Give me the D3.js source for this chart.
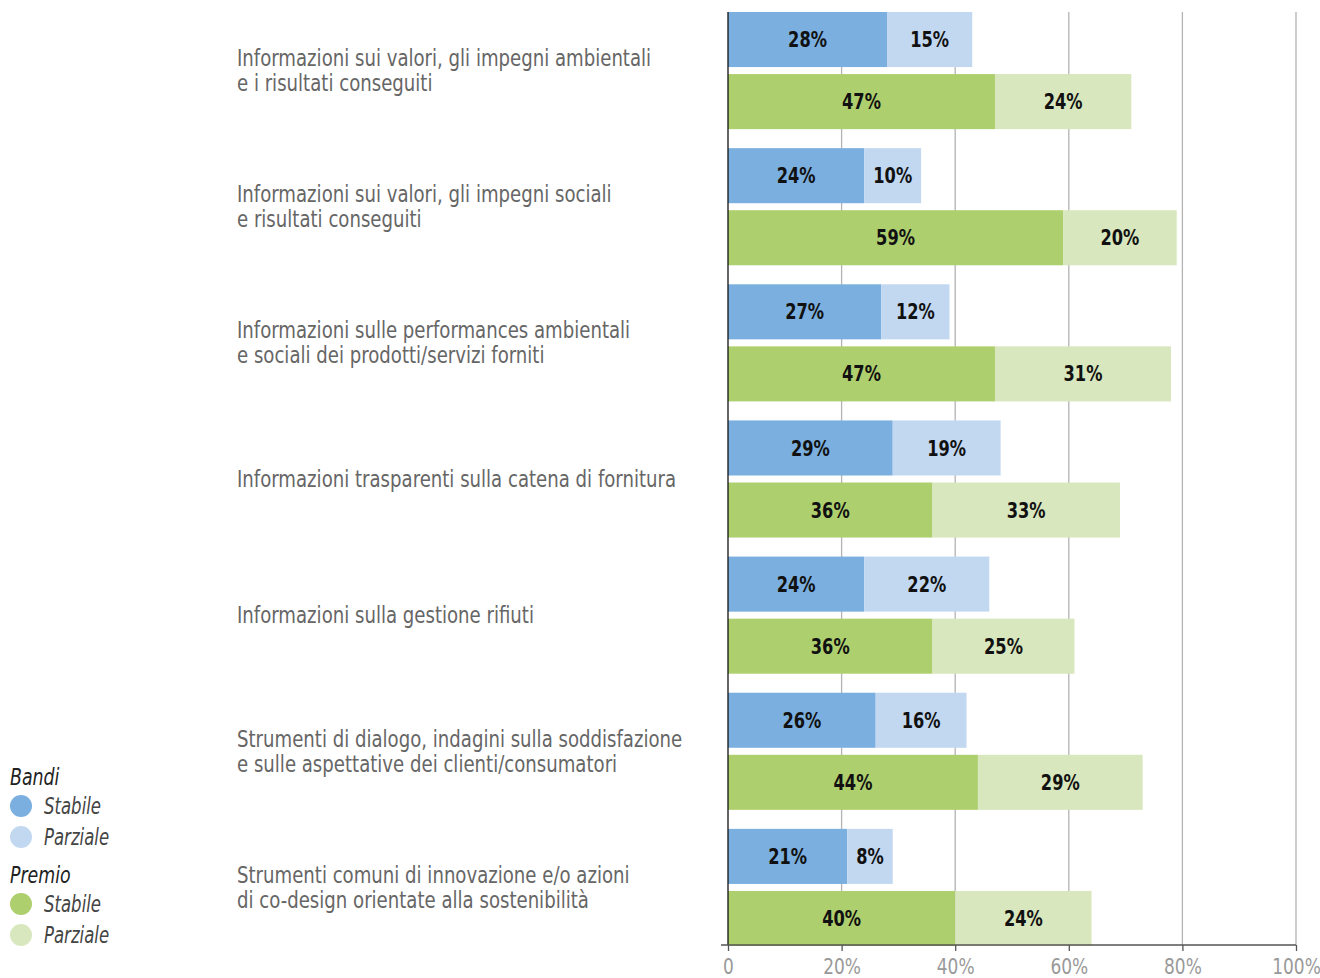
<!DOCTYPE html>
<html>
<head>
<meta charset="utf-8">
<script src="https://cdn.jsdelivr.net/npm/d3@7"></script>
<style>
  body { margin: 0; background: #fff; }
  text { font-family: "DejaVu Sans Condensed", "DejaVu Sans", sans-serif; }
</style>
</head>
<body>
<svg id="bar-chart"></svg>
<script>
// categories (each label split in lines)
let categories = [
  ['Informazioni sui valori, gli impegni ambientali', 'e i risultati conseguiti'],
  ['Informazioni sui valori, gli impegni sociali', 'e risultati conseguiti'],
  ['Informazioni sulle performances ambientali', 'e sociali dei prodotti/servizi forniti'],
  ['Informazioni trasparenti sulla catena di fornitura'],
  ['Informazioni sulla gestione rifiuti'],
  ['Strumenti di dialogo, indagini sulla soddisfazione', 'e sulle aspettative dei clienti/consumatori'],
  ['Strumenti comuni di innovazione e/o azioni', 'di co-design orientate alla sostenibilità']
];

// values in percent
let bandiStabile = [28, 24, 27, 29, 24, 26, 21];
let bandiParziale = [15, 10, 12, 19, 22, 16, 8];
let premioStabile = [47, 59, 47, 36, 36, 44, 40];
let premioParziale = [24, 20, 31, 33, 25, 29, 24];

let tickValues = [0, 20, 40, 60, 80, 100];

let groups = ['Bandi', 'Premio'];

let colors = {
  'Bandi': ['#7aafdf', '#c2d8f1'],
  'Premio': ['#aecf6e', '#d8e7bd']
};

// configuration of svg/plot area
let config = {
  'svg': {width: 1320, height: 978},
  'plot': {left: 728, right: 1296, top: 2.5, bottom: 955.5}
};

// the original font is a narrow one, so texts are squeezed a bit
let squeeze = 0.895;

let svg = d3.select('#bar-chart')
  .attr('width', config.svg.width)
  .attr('height', config.svg.height);

let x = d3.scaleLinear()
  .domain([0, 100])
  .range([config.plot.left, config.plot.right]);

let ids = d3.range(categories.length);

let y = d3.scaleBand()
  .domain(ids)
  .range([config.plot.top, config.plot.bottom])
  .paddingInner(19 / 136)
  .paddingOuter(19 / 272);

let ySub = d3.scaleBand()
  .domain(groups)
  .range([0, y.bandwidth()])
  .paddingInner(7 / 62);

let axisY = 945;
let gridTop = y(0) + ySub('Bandi');

// gridlines
svg.append('g')
  .selectAll('line')
  .data(tickValues.slice(1))
  .join('line')
  .attr('x1', d => x(d))
  .attr('x2', d => x(d))
  .attr('y1', gridTop)
  .attr('y2', axisY)
  .attr('stroke', '#b3b3b3')
  .attr('stroke-width', 1.3);

// build segments
let rows = [];
ids.forEach(i => {
  let sets = {
    'Bandi': [bandiStabile[i], bandiParziale[i]],
    'Premio': [premioStabile[i], premioParziale[i]]
  };
  groups.forEach(g => {
    let start = 0;
    sets[g].forEach((v, k) => {
      rows.push({i: i, group: g, k: k, x0: start, x1: start + v, value: v});
      start += v;
    });
  });
});

let bars = svg.append('g');

bars.selectAll('rect')
  .data(rows)
  .join('rect')
  .attr('x', d => x(d.x0))
  .attr('width', d => x(d.x1) - x(d.x0))
  .attr('y', d => y(d.i) + ySub(d.group))
  .attr('height', ySub.bandwidth())
  .attr('fill', d => colors[d.group][d.k]);

bars.selectAll('text')
  .data(rows)
  .join('text')
  .attr('transform', d => translate((x(d.x0) + x(d.x1)) / 2, y(d.i) + ySub(d.group) + ySub.bandwidth() / 2) + ' scale(0.86,1)')
  .attr('dy', '0.36em')
  .attr('text-anchor', 'middle')
  .attr('font-size', 21)
  .attr('font-weight', 'bold')
  .attr('fill', '#111')
  .text(d => d.value + '%');

// left axis line
svg.append('line')
  .attr('x1', x(0)).attr('x2', x(0))
  .attr('y1', gridTop).attr('y2', axisY)
  .attr('stroke', '#111')
  .attr('stroke-width', 1.3);

// bottom axis
let xAxis = d3.axisBottom(x)
  .tickValues(tickValues)
  .tickSize(6)
  .tickSizeOuter(0)
  .tickFormat(d => d === 0 ? '0' : d + '%');

let xGroup = svg.append('g')
  .attr('transform', translate(0, axisY))
  .call(xAxis);

xGroup.select('.domain')
  .attr('d', 'M' + (x(0) - 7) + ',0H' + x(100))
  .attr('stroke', '#555')
  .attr('stroke-width', 1.5);

xGroup.selectAll('.tick line').attr('stroke', '#555').attr('stroke-width', 1.3);
xGroup.selectAll('.tick text')
  .attr('font-size', 21)
  .attr('fill', '#999')
  .attr('y', 0)
  .attr('dy', 0)
  .attr('transform', 'translate(0,29) scale(0.9,1)')
  .attr('font-family', '"DejaVu Sans Condensed", "DejaVu Sans", sans-serif');

// category labels
let labels = svg.append('g');
categories.forEach((lines, i) => {
  let cy = y(i) + y.bandwidth() / 2;
  let lh = 25;
  let t = labels.append('text')
    .attr('transform', translate(237, cy) + ' scale(' + squeeze + ',1)')
    .attr('font-size', 22.5)
    .attr('fill', '#666');
  lines.forEach((line, j) => {
    t.append('tspan')
      .attr('x', 0)
      .attr('y', (j - (lines.length - 1) / 2) * lh)
      .attr('dy', '0.35em')
      .text(line);
  });
});

// legend
let legendItems = [
  {title: 'Bandi', y: 777},
  {title: 'Premio', y: 875}
];
let legendNames = ['Stabile', 'Parziale'];

let legend = svg.append('g');
legendItems.forEach(item => {
  legend.append('text')
    .attr('transform', translate(10, item.y) + ' scale(0.84,1)')
    .attr('dy', '0.35em')
    .attr('font-size', 23)
    .attr('font-style', 'italic')
    .attr('fill', '#222')
    .text(item.title);
  legendNames.forEach((name, k) => {
    let cy = item.y + 29 + k * 31;
    legend.append('circle')
      .attr('cx', 21)
      .attr('cy', cy)
      .attr('r', 11)
      .attr('fill', colors[item.title][k]);
    legend.append('text')
      .attr('transform', translate(44, cy) + ' scale(0.8,1)')
      .attr('dy', '0.35em')
      .attr('font-size', 23)
      .attr('font-style', 'italic')
      .attr('fill', '#444')
      .text(name);
  });
});

// helper method to make translating easier
function translate(x, y) {
  return 'translate(' + x + ',' + y + ')';
}
</script>
</body>
</html>
